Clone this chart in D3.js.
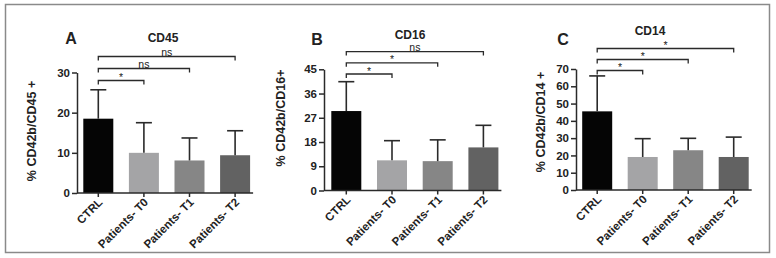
<!DOCTYPE html>
<html>
  <head>
    <meta charset="utf-8">
    <title>CD42b panels</title>
    <script src="https://d3js.org/d3.v7.min.js"></script>
    <style>
      body { margin: 0; background: #fff; }
      text { font-family: Arial, "Liberation Sans", sans-serif; fill: #222; }
    </style>
  </head>
  <body>
    <div id="vis"></div>
    <script>
        const width = 776;
        const height = 258;

        // data
        const categories = ["CTRL", "Patients- T0", "Patients- T1", "Patients- T2"];
        const barColors = ["#050505", "#a4a4a6", "#868686", "#626262"];

        const cd45Means  = [18.5, 10.0, 8.1, 9.4];
        const cd45Errors = [7.2, 7.5, 5.6, 6.1];
        const cd45Ticks  = [0, 10, 20, 30];
        const cd45Sig    = ["*", "ns", "ns"];

        const cd16Means  = [29.5, 11.2, 10.9, 16.0];
        const cd16Errors = [10.9, 7.3, 7.9, 8.2];
        const cd16Ticks  = [0, 9, 18, 27, 36, 45];
        const cd16Sig    = ["*", "*", "ns"];

        const cd14Means  = [45.5, 19.1, 23.0, 19.1];
        const cd14Errors = [20.5, 10.6, 6.9, 11.5];
        const cd14Ticks  = [0, 10, 20, 30, 40, 50, 60, 70];
        const cd14Sig    = ["*", "*", "*"];

        let svg = d3.select('#vis')
                    .append('svg')
                    .attr('width', width)
                    .attr('height', height);

        // outer frame
        svg.append("rect")
           .attr("x", 5.5).attr("y", 4.5)
           .attr("width", 764).attr("height", 248)
           .attr("fill", "none")
           .attr("stroke", "#8a8a8a")
           .attr("stroke-width", 1.5);

        const panels = [
          { letter: "A", title: "CD45", ylabel: "% CD42b/CD45 +", means: cd45Means, errors: cd45Errors, ticks: cd45Ticks, sig: cd45Sig,
            axisX: 77, y0: 193, y1: 72.5, bandStart: 83.3, step: 45.6, letterX: 71, letterY: 44, titleX: 163, titleY: 42,
            labelX: 33, labelY: 131, brBase: 80.5, brStep: 12 },
          { letter: "B", title: "CD16", ylabel: "% CD42b/CD16+", means: cd16Means, errors: cd16Errors, ticks: cd16Ticks, sig: cd16Sig,
            axisX: 324, y0: 190.5, y1: 69.3, bandStart: 331.3, step: 45.7, letterX: 317, letterY: 45, titleX: 410, titleY: 38.5,
            labelX: 282, labelY: 118, brBase: 74, brStep: 11.2 },
          { letter: "C", title: "CD14", ylabel: "% CD42b/CD14 +", means: cd14Means, errors: cd14Errors, ticks: cd14Ticks, sig: cd14Sig,
            axisX: 576, y0: 190, y1: 69, bandStart: 582.2, step: 45.5, letterX: 563, letterY: 45, titleX: 650, titleY: 35,
            labelX: 542, labelY: 122, brBase: 70.5, brStep: 11 }
        ];

        panels.forEach(drawPanel);

        function drawPanel(p) {
          const g = svg.append("g");
          const barW = 30;
          const pi = 1 - barW / p.step;
          const po = (p.bandStart - p.axisX) / p.step;

          const x = d3.scaleBand()
                      .domain(categories)
                      .range([p.axisX, p.axisX + p.step * (categories.length - pi + 2 * po)])
                      .paddingInner(pi)
                      .paddingOuter(po);

          const y = d3.scaleLinear()
                      .domain([0, d3.max(p.ticks)])
                      .range([p.y0, p.y1]);

          const cx = c => x(c) + x.bandwidth() / 2;

          // bars
          g.selectAll("rect.bar")
           .data(categories)
           .enter()
           .append("rect")
           .attr("class", "bar")
           .attr("x", d => x(d))
           .attr("width", x.bandwidth())
           .attr("y", (d, i) => y(p.means[i]))
           .attr("height", (d, i) => p.y0 - y(p.means[i]))
           .attr("fill", (d, i) => barColors[i]);

          // error bars (upper only)
          const eb = g.selectAll("g.err")
                      .data(categories)
                      .enter()
                      .append("g")
                      .attr("stroke", "#2a2a2a")
                      .attr("stroke-width", 1.6);
          eb.append("line")
            .attr("x1", d => cx(d)).attr("x2", d => cx(d))
            .attr("y1", (d, i) => y(p.means[i]))
            .attr("y2", (d, i) => y(p.means[i] + p.errors[i]));
          eb.append("line")
            .attr("x1", d => cx(d) - 8).attr("x2", d => cx(d) + 8)
            .attr("y1", (d, i) => y(p.means[i] + p.errors[i]))
            .attr("y2", (d, i) => y(p.means[i] + p.errors[i]));

          // y axis
          const yAxis = g.append("g")
                         .attr("transform", `translate(${p.axisX},0)`)
                         .call(d3.axisLeft(y).tickValues(p.ticks).tickSize(5).tickPadding(2).tickSizeOuter(0));
          yAxis.selectAll("text").attr("font-size", 11.5).attr("font-weight", "bold").attr("fill", "#222");

          // x axis
          const xEnd = x(categories[categories.length - 1]) + x.bandwidth() + 3;
          const xAxis = g.append("g")
                         .attr("transform", `translate(0,${p.y0})`)
                         .call(d3.axisBottom(x).tickSize(4).tickSizeOuter(0).tickFormat(""));
          xAxis.select(".domain").attr("d", `M${p.axisX},0H${xEnd}`);
          g.selectAll(".domain, .tick line").attr("stroke", "#2a2a2a").attr("stroke-width", 1.5);

          g.selectAll("text.xlab")
           .data(categories)
           .enter()
           .append("text")
           .attr("class", "xlab")
           .attr("transform", d => `translate(${cx(d) + 5},${p.y0 + 10}) rotate(-45)`)
           .attr("text-anchor", "end")
           .attr("font-size", 11.5)
           .attr("font-weight", "bold")
           .text(d => d);

          // significance brackets
          p.sig.forEach((s, i) => {
            const by = p.brBase - i * p.brStep;
            const xa = cx(categories[0]);
            const xb = cx(categories[i + 1]);
            g.append("path")
             .attr("d", `M${xa},${by + 4}V${by}H${xb}V${by + 4}`)
             .attr("fill", "none")
             .attr("stroke", "#2a2a2a")
             .attr("stroke-width", 1.3);
            g.append("text")
             .attr("x", (xa + xb) / 2)
             .attr("y", s === "*" ? by + 0.5 : by - 1)
             .attr("text-anchor", "middle")
             .attr("font-size", 10.5)
             .text(s);
          });

          // titles and labels
          g.append("text")
           .attr("x", p.letterX).attr("y", p.letterY)
           .attr("text-anchor", "middle")
           .attr("font-size", 16).attr("font-weight", "bold")
           .text(p.letter);
          g.append("text")
           .attr("x", p.titleX).attr("y", p.titleY)
           .attr("text-anchor", "middle")
           .attr("font-size", 12).attr("font-weight", "bold")
           .text(p.title);
          g.append("text")
           .attr("transform", `translate(${p.labelX},${p.labelY}) rotate(-90)`)
           .attr("text-anchor", "middle")
           .attr("dominant-baseline", "middle")
           .attr("font-size", 12.5).attr("font-weight", "bold")
           .text(p.ylabel);
        }
    </script>
  </body>
</html>
